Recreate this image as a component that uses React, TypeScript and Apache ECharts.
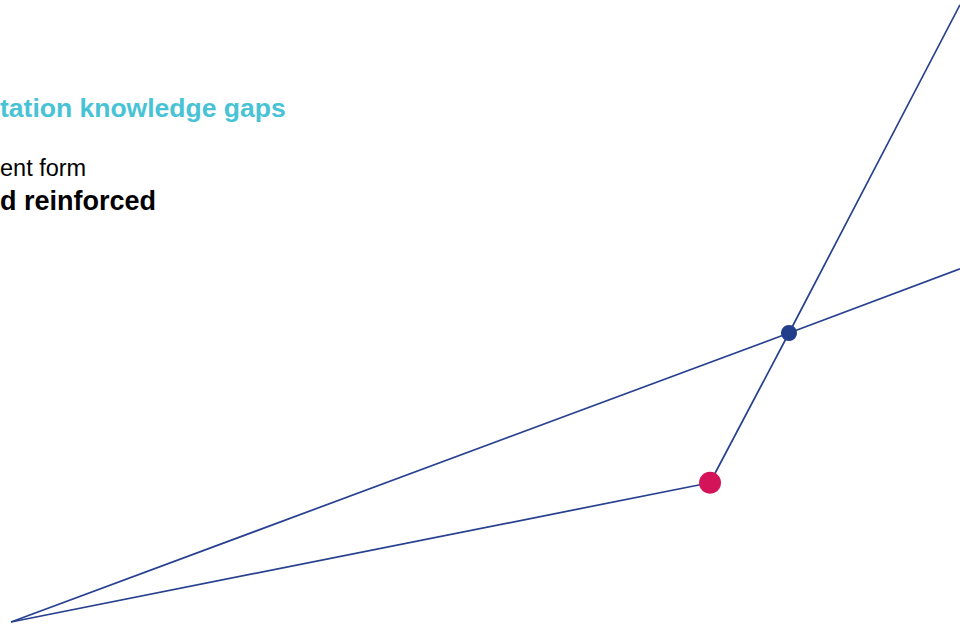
import React, { useEffect, useRef } from "react";
import * as echarts from "echarts";

// Values in chart units (x: 0..100, y: 0..65)
const startPoint: [number, number] = [0, 0];
const lineAEnd: [number, number] = [100, 36.9];
const redPoint: [number, number] = [73.66, 14.55];
const bluePoint: [number, number] = [81.98, 30.2];
const lineBEnd: [number, number] = [100, 64.5];

const lineAData = [startPoint, bluePoint, lineAEnd];
const lineBData = [startPoint, redPoint, bluePoint, lineBEnd];

const titleText = "tation knowledge gaps";
const line1Text = "ent form";
const line2Text = "d reinforced";

const LINE_COLOR = "#27408f";
const BLUE_DOT = "#233f8b";
const RED_DOT = "#d41459";
const CYAN = "#48c3d6";
const FONT = "'Liberation Sans', Arial, sans-serif";

export default function App() {
  const ref = useRef<HTMLDivElement>(null);
  useEffect(() => {
    if (!ref.current) return;
    const chart = echarts.init(ref.current, undefined, { renderer: "svg" });
    chart.setOption({
      animation: false,
      backgroundColor: "#ffffff",
      grid: { left: 11, right: 0, top: 0, bottom: 5 },
      xAxis: { type: "value", min: 0, max: 100, show: false },
      yAxis: { type: "value", min: 0, max: 65, show: false },
      series: [
        {
          type: "line",
          data: lineAData,
          showSymbol: false,
          symbol: "none",
          lineStyle: { color: LINE_COLOR, width: 1.7 },
          clip: false,
          silent: true,
        },
        {
          type: "line",
          data: lineBData,
          showSymbol: false,
          symbol: "none",
          lineStyle: { color: LINE_COLOR, width: 1.7 },
          clip: false,
          silent: true,
        },
        {
          type: "scatter",
          data: [redPoint],
          symbolSize: 22,
          itemStyle: { color: RED_DOT, opacity: 1 },
          z: 5,
        },
        {
          type: "scatter",
          data: [bluePoint],
          symbolSize: 16,
          itemStyle: { color: BLUE_DOT, opacity: 1 },
          z: 5,
        },
      ],
      graphic: [
        {
          type: "text",
          left: 0,
          top: 94,
          style: {
            text: titleText,
            fill: CYAN,
            font: `bold 26.5px ${FONT}`,
          },
        },
        {
          type: "text",
          left: 0,
          top: 156,
          style: {
            text: line1Text,
            fill: "#000000",
            font: `23.5px ${FONT}`,
          },
        },
        {
          type: "text",
          left: 0,
          top: 187,
          style: {
            text: line2Text,
            fill: "#000000",
            font: `bold 27px ${FONT}`,
          },
        },
      ],
    });
    return () => chart.dispose();
  }, []);
  return (
    <div
      ref={ref}
      style={{ position: "fixed", left: 0, top: 0, width: 960, height: 627 }}
    />
  );
}
